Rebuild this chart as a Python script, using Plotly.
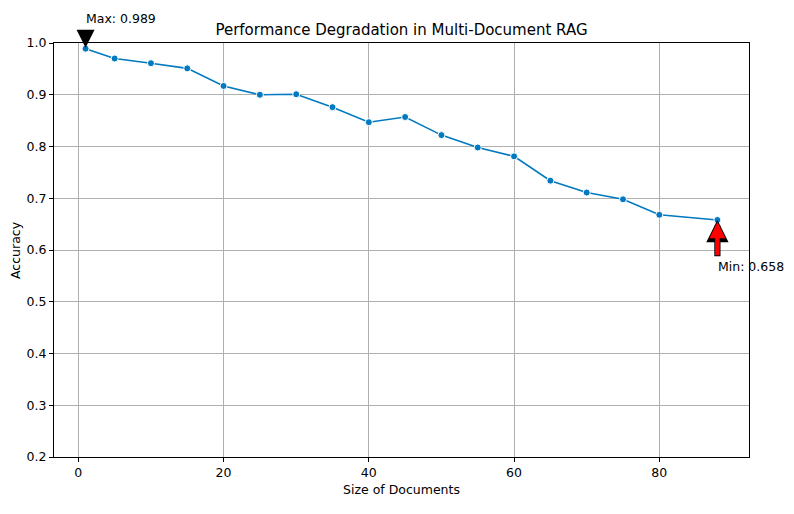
import plotly.graph_objects as go

doc_sizes = [1, 5, 10, 15, 20, 25, 30, 35, 40, 45, 50, 55, 60, 65, 70, 75, 80, 88]
accuracy = [0.989, 0.970, 0.961, 0.951, 0.917, 0.900, 0.901, 0.876, 0.847,
            0.857, 0.822, 0.798, 0.781, 0.734, 0.711, 0.698, 0.668, 0.658]
x_ticks = [0, 20, 40, 60, 80]
y_ticks = [0.2, 0.3, 0.4, 0.5, 0.6, 0.7, 0.8, 0.9, 1.0]

i_max = accuracy.index(max(accuracy))
i_min = accuracy.index(min(accuracy))

W, H = 786, 506  # page body adds an 8px offset
ML, MR, MT, MB = 46, 45, 35, 57

fig = go.Figure()
fig.add_trace(go.Scatter(
    x=doc_sizes, y=accuracy, mode="lines+markers",
    line=dict(color="#0079c1", width=1.6),
    marker=dict(color="#0079c1", size=7, line=dict(color="white", width=1)),
    showlegend=False,
))

font = "DejaVu Sans, Liberation Sans, sans-serif"

anns = []
# Max arrow (black)
anns.append(dict(x=doc_sizes[i_max], y=accuracy[i_max], xref="x", yref="y",
                 ax=doc_sizes[i_max], ay=accuracy[i_max] + 0.036, axref="x", ayref="y",
                 showarrow=True, arrowhead=2, arrowsize=0.8, arrowwidth=4.5,
                 arrowcolor="black", standoff=1, text=""))
anns.append(dict(x=doc_sizes[i_max], y=1.0, xref="x", yref="y", yshift=25, xshift=-2,
                 text=f"Max: {accuracy[i_max]:.3f}", showarrow=False,
                 xanchor="left", yanchor="middle",
                 font=dict(family=font, size=12.5, color="black")))
# Min arrow (red with black outline)
anns.append(dict(x=doc_sizes[i_min], y=accuracy[i_min], xref="x", yref="y",
                 ax=doc_sizes[i_min], ay=accuracy[i_min] - 0.073, axref="x", ayref="y",
                 showarrow=True, arrowhead=2, arrowsize=0.72, arrowwidth=6.2,
                 arrowcolor="black", standoff=0, text=""))
anns.append(dict(x=doc_sizes[i_min], y=accuracy[i_min], xref="x", yref="y",
                 ax=doc_sizes[i_min], ay=accuracy[i_min] - 0.071, axref="x", ayref="y",
                 showarrow=True, arrowhead=2, arrowsize=0.72, arrowwidth=4.5,
                 arrowcolor="red", standoff=2, text=""))
anns.append(dict(x=doc_sizes[i_min], y=accuracy[i_min], xref="x", yref="y", yshift=-47, xshift=-1,
                 text=f"Min: {accuracy[i_min]:.3f}", showarrow=False,
                 xanchor="left", yanchor="middle",
                 font=dict(family=font, size=12.5, color="black")))
# Y axis title
anns.append(dict(x=0, y=0.5, xref="paper", yref="paper", xshift=-39,
                 text="Accuracy", textangle=-90, showarrow=False,
                 xanchor="center", yanchor="middle",
                 font=dict(family=font, size=12.5, color="black")))

fig.update_layout(
    width=W, height=H,
    margin=dict(l=ML, r=MR, t=MT, b=MB, autoexpand=False),
    paper_bgcolor="white", plot_bgcolor="white",
    font=dict(family=font, size=12.5, color="black"),
    title=dict(text="Performance Degradation in Multi-Document RAG",
               x=(ML + (W - MR)) / 2 / W, xanchor="center", y=1 - 22 / H, yanchor="middle",
               font=dict(size=15, color="black")),
    annotations=anns,
)
fig.update_xaxes(
    range=[-3.35, 92.35], tickvals=x_ticks, ticktext=[str(v) for v in x_ticks],
    showgrid=True, gridcolor="#b0b0b0", gridwidth=1,
    showline=True, linecolor="black", linewidth=1, mirror=True,
    ticks="outside", ticklen=4, tickcolor="black", zeroline=False,
    title=dict(text="Size of Documents", font=dict(size=12.5), standoff=6),
    tickfont=dict(size=12.5),
)
fig.update_yaxes(
    range=[0.2, 1.0], tickvals=y_ticks, ticktext=[f"{v:.1f}" for v in y_ticks],
    showgrid=True, gridcolor="#b0b0b0", gridwidth=1,
    showline=True, linecolor="black", linewidth=1, mirror=True,
    ticks="outside", ticklen=4, tickcolor="black", zeroline=False,
    automargin=False,
    tickfont=dict(size=12.5),
)

fig.write_html("out.html")
